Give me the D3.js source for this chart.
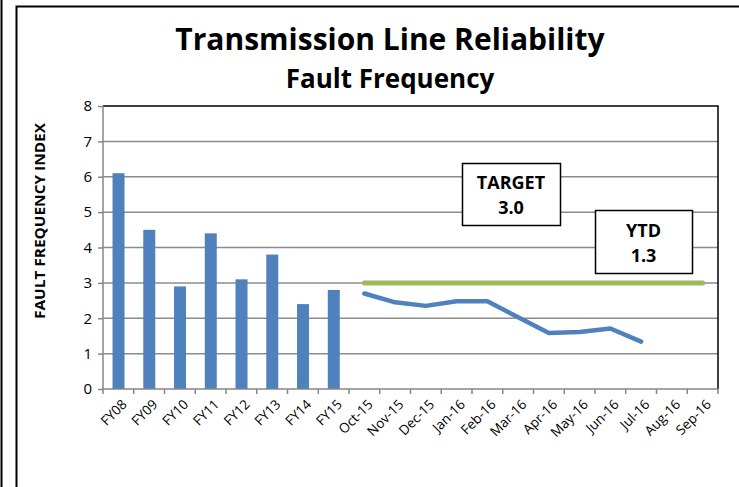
<!DOCTYPE html>
<html lang="en">
<head>
  <meta charset="UTF-8">
  <title>Transmission Line Reliability</title>
  <style>
    body { margin: 0; background: #fff; }
    svg { display: block; font-family: "Open Sans", Lato, sans-serif; }
  </style>
  <script src="https://d3js.org/d3.v7.min.js"></script>
</head>
<body>
  <div id="chart"></div>
  <script>
    // Data
    var yearCats = ["FY08", "FY09", "FY10", "FY11", "FY12", "FY13", "FY14", "FY15"];
    var yearVals = [6.1, 4.5, 2.9, 4.4, 3.1, 3.8, 2.4, 2.8];
    var monthCats = ["Oct-15", "Nov-15", "Dec-15", "Jan-16", "Feb-16", "Mar-16",
                     "Apr-16", "May-16", "Jun-16", "Jul-16", "Aug-16", "Sep-16"];
    var monthVals = [2.7, 2.45, 2.35, 2.48, 2.48, 2.03, 1.58, 1.61, 1.71, 1.34];
    var targetVal = 3.0;
    var ytdVal = 1.3;
    var yTicks = [0, 1, 2, 3, 4, 5, 6, 7, 8];

    var W = 739, H = 487;
    var pLeft = 103, pRight = 718, pTop = 106, pBottom = 389;

    var svg = d3.select("#chart").append("svg")
      .attr("width", W).attr("height", H);

    // outer frame (cropped)
    svg.append("line").attr("x1", 1.5).attr("x2", 1.5).attr("y1", 0).attr("y2", H)
      .attr("stroke", "#000").attr("stroke-width", 2);
    svg.append("path").attr("d", "M16.5," + H + "V6.5H" + W)
      .attr("fill", "none").attr("stroke", "#000").attr("stroke-width", 2);

    var cats = yearCats.concat(monthCats);
    var x = d3.scaleBand().domain(cats).range([pLeft, pRight]);
    var y = d3.scaleLinear().domain([0, 8]).range([pBottom, pTop]);

    // gridlines
    svg.append("g").selectAll("line").data(yTicks.filter(function(d) { return d > 0 && d < 8; }))
      .enter().append("line")
      .attr("x1", pLeft).attr("x2", pRight)
      .attr("y1", function(d) { return y(d); }).attr("y2", function(d) { return y(d); })
      .attr("stroke", "#8c8c8c").attr("stroke-width", 1.5);

    // plot border top / right
    svg.append("path")
      .attr("d", "M" + pLeft + "," + y(8) + "H" + pRight + "V" + pBottom)
      .attr("fill", "none").attr("stroke", "#000").attr("stroke-width", 1.5);

    // bars
    svg.append("g").selectAll("rect").data(yearCats)
      .enter().append("rect")
      .attr("x", function(d) { return x(d) + x.bandwidth() * 0.31; })
      .attr("width", x.bandwidth() * 0.39)
      .attr("y", function(d, i) { return y(yearVals[i]); })
      .attr("height", function(d, i) { return y(0) - y(yearVals[i]); })
      .attr("fill", "#4f81bd");

    // target line
    svg.append("line")
      .attr("x1", x(monthCats[0]) + x.bandwidth() / 2)
      .attr("x2", x(monthCats[monthCats.length - 1]) + x.bandwidth() / 2)
      .attr("y1", y(targetVal)).attr("y2", y(targetVal))
      .attr("stroke", "#9bbb59").attr("stroke-width", 5).attr("stroke-linecap", "round");

    // monthly line
    var line = d3.line()
      .x(function(d, i) { return x(monthCats[i]) + x.bandwidth() / 2; })
      .y(function(d) { return y(d); });
    svg.append("path").datum(monthVals)
      .attr("d", line)
      .attr("fill", "none").attr("stroke", "#4f81bd").attr("stroke-width", 4.5)
      .attr("stroke-linecap", "round").attr("stroke-linejoin", "round");

    // y axis
    var yAxis = svg.append("g")
      .attr("transform", "translate(" + pLeft + ",0)")
      .call(d3.axisLeft(y).tickValues(yTicks).tickSize(5).tickPadding(6));
    yAxis.selectAll("line, path").attr("stroke", "#868686").attr("stroke-width", 1.5);
    yAxis.select(".domain").attr("d", "M0," + pTop + "V" + pBottom);
    yAxis.selectAll("text").attr("font-size", 15).attr("fill", "#000")
      .attr("font-family", "Open Sans, sans-serif");

    // x axis
    var xAxis = svg.append("g")
      .attr("transform", "translate(0," + pBottom + ")")
      .call(d3.axisBottom(x).tickSize(0).tickPadding(0));
    xAxis.select(".domain").attr("stroke", "#868686").attr("stroke-width", 1.5)
      .attr("d", "M" + pLeft + ",0H" + pRight);
    var tickPos = d3.range(cats.length + 1).map(function(i) { return pLeft + i * x.step(); });
    xAxis.selectAll(".xt").data(tickPos).enter().append("line").attr("class", "xt")
      .attr("x1", function(d) { return d; }).attr("x2", function(d) { return d; })
      .attr("y1", 0).attr("y2", 5)
      .attr("stroke", "#868686").attr("stroke-width", 1.5);
    xAxis.selectAll(".tick text")
      .attr("font-size", 13.5).attr("fill", "#000")
      .attr("font-family", "Open Sans, sans-serif")
      .attr("text-anchor", "end")
      .attr("dy", "0.35em")
      .attr("transform", "translate(6,13) rotate(-45)")
      .attr("y", 0).attr("x", 0);

    // titles
    svg.append("text").attr("x", 390).attr("y", 50)
      .attr("text-anchor", "middle").attr("font-weight", "bold").attr("font-size", 30)
      .text("Transmission Line Reliability");
    svg.append("text").attr("x", 390).attr("y", 88)
      .attr("text-anchor", "middle").attr("font-weight", "bold").attr("font-size", 26)
      .text("Fault Frequency");

    // y axis title
    svg.append("text")
      .attr("transform", "translate(45,221) rotate(-90)")
      .attr("text-anchor", "middle").attr("font-weight", "bold").attr("font-size", 14)
      .attr("textLength", 196).attr("lengthAdjust", "spacingAndGlyphs")
      .text("FAULT FREQUENCY INDEX");

    // annotation boxes
    function box(x0, y0, w, h, l1, l2, b1, b2) {
      var g = svg.append("g");
      g.append("rect").attr("x", x0 + 0.5).attr("y", y0 + 0.5).attr("width", w).attr("height", h)
        .attr("fill", "#fff").attr("stroke", "#000").attr("stroke-width", 1.5);
      g.append("text").attr("x", x0 + w / 2).attr("y", b1)
        .attr("text-anchor", "middle").attr("font-weight", "bold").attr("font-size", 18).text(l1);
      g.append("text").attr("x", x0 + w / 2).attr("y", b2)
        .attr("text-anchor", "middle").attr("font-weight", "bold").attr("font-size", 18).text(l2);
    }
    box(462, 163, 98, 62, "TARGET", targetVal.toFixed(1), 189, 214);
    box(595, 210, 97, 63, "YTD", ytdVal.toFixed(1), 237, 262);
  </script>
</body>
</html>
